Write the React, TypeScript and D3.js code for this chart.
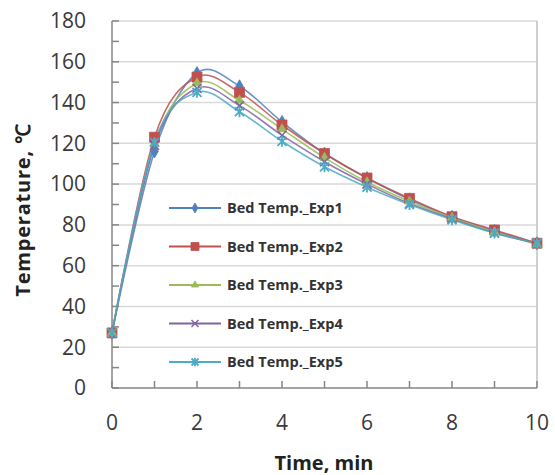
import * as d3 from "d3";

const time = [0, 1, 2, 3, 4, 5, 6, 7, 8, 9, 10];
const exp1 = [27, 116, 154.5, 148, 130.5, 115, 103, 92.5, 84, 77, 71];
const exp2 = [27, 123, 152.5, 145, 129, 115, 103, 93, 84, 77.5, 71];
const exp3 = [27, 120, 149.5, 141, 127, 113, 101, 91.5, 83.5, 76.5, 70.5];
const exp4 = [27, 119, 147, 138.5, 124, 111, 100, 90.5, 83, 76, 71];
const exp5 = [27, 120.5, 145, 135.5, 121, 108.5, 98.5, 90, 82.5, 76, 71];
const seriesNames = ["Bed Temp._Exp1", "Bed Temp._Exp2", "Bed Temp._Exp3", "Bed Temp._Exp4", "Bed Temp._Exp5"];
const seriesColors = ["#4F81BD", "#C0504D", "#9BBB59", "#8064A2", "#4BACC6"];
const markerKinds = ["diamond", "square", "triangle", "x", "star"];

const W = 555;
const H = 475;
const margin = { top: 21, right: 18, bottom: 87, left: 112 };

function Marker({ kind, color, x, y, s }: { kind: string; color: string; x: number; y: number; s: number }) {
    if (kind === "x") {
        const r = s / 2;
        return <path d={`M${x - r},${y - r}L${x + r},${y + r}M${x - r},${y + r}L${x + r},${y - r}`} stroke={color} strokeWidth={1.5} fill="none" />;
    }
    if (kind === "star") {
        const r = s / 2;
        return <path d={`M${x - r},${y - r}L${x + r},${y + r}M${x - r},${y + r}L${x + r},${y - r}M${x},${y - r * 1.2}L${x},${y + r * 1.2}`} stroke={color} strokeWidth={1.8} fill="none" />;
    }
    const type = kind === "diamond" ? d3.symbolDiamond : kind === "square" ? d3.symbolSquare : d3.symbolTriangle;
    const area = kind === "square" ? s * s : kind === "diamond" ? s * s * 0.6 : s * s * 0.45;
    const d = d3.symbol(type, area)() || "";
    return <path d={d} transform={`translate(${x},${y})`} fill={color} stroke={color} strokeWidth={0.8} />;
}

export default function App() {
    const series = [exp1, exp2, exp3, exp4, exp5];

    const x = d3.scaleLinear([0, 10], [margin.left, 537]);
    const y = d3.scaleLinear([0, 180], [H - margin.bottom, margin.top]);

    const line = d3.line<number>()
        .x((_, i) => x(time[i]))
        .y(d => y(d))
        .curve(d3.curveCardinal.tension(0));

    const majorY = d3.range(0, 181, 20);
    const minorY = d3.range(0, 181, 10);
    const ticksX = d3.range(0, 11, 1);
    const labelsX = d3.range(0, 11, 2);

    const x0 = x(0);
    const x1 = x(10);
    const yb = y(0);

    const legendX = 169;
    const legendY0 = 208;
    const legendStep = 38.5;

    return (
        <svg width={W} height={H} style={{ position: "absolute", left: 0, top: 0, background: "#fff" }} fontFamily="'Open Sans', sans-serif">
            {/* grid */}
            {majorY.filter(v => v > 0).map(v => (
                <line key={v} x1={x0} x2={x1} y1={y(v)} y2={y(v)} stroke="#D9D9D9" strokeWidth={1.5} />
            ))}
            {/* right border */}
            <line x1={x1} x2={x1} y1={y(180)} y2={yb} stroke="#BFBFBF" strokeWidth={1.5} />
            {/* axes */}
            <line x1={x0} x2={x0} y1={y(180)} y2={yb} stroke="#868686" strokeWidth={1.5} />
            <line x1={x0} x2={x1} y1={yb} y2={yb} stroke="#868686" strokeWidth={1.5} />
            {minorY.map(v => (
                <line key={v} x1={x0} x2={x0 + 7} y1={y(v)} y2={y(v)} stroke="#868686" strokeWidth={1.5} />
            ))}
            {ticksX.map(t => (
                <line key={t} x1={x(t)} x2={x(t)} y1={yb} y2={yb - 7} stroke="#868686" strokeWidth={1.5} />
            ))}
            {majorY.map(v => (
                <text key={v} x={86} y={y(v)} dy="0.35em" textAnchor="end" fontSize={21} fill="#3a3a3a">{v}</text>
            ))}
            {labelsX.map(t => (
                <text key={t} x={x(t)} y={430} textAnchor="middle" fontSize={21} fill="#3a3a3a">{t}</text>
            ))}
            <text x={324} y={470} textAnchor="middle" fontSize={20} fontWeight="bold" fill="#222">Time, min</text>
            <text transform="translate(30,210) rotate(-90)" textAnchor="middle" fontSize={20} fontWeight="bold" letterSpacing={0.8} fill="#222">Temperature, ℃</text>

            {/* lines */}
            {series.map((s, i) => (
                <path key={i} d={line(s) || ""} fill="none" stroke={seriesColors[i]} strokeWidth={1.6} strokeOpacity={0.85} />
            ))}
            {series.map((s, i) => (
                <g key={i}>
                    {s.map((v, j) => (
                        <Marker key={j} kind={markerKinds[i]} color={seriesColors[i]} x={x(time[j])} y={y(v)} s={i === 1 ? 10 : 9} />
                    ))}
                </g>
            ))}

            {/* legend */}
            {seriesNames.map((name, i) => {
                const ly = legendY0 + i * legendStep;
                return (
                    <g key={name}>
                        <line x1={legendX} x2={legendX + 52} y1={ly} y2={ly} stroke={seriesColors[i]} strokeWidth={1.8} />
                        <Marker kind={markerKinds[i]} color={seriesColors[i]} x={legendX + 26} y={ly} s={i === 1 ? 8 : 7} />
                        <text x={legendX + 58} y={ly} dy="0.35em" fontSize={14.5} fontWeight="bold" fill="#333">{name}</text>
                    </g>
                );
            })}
        </svg>
    );
}
